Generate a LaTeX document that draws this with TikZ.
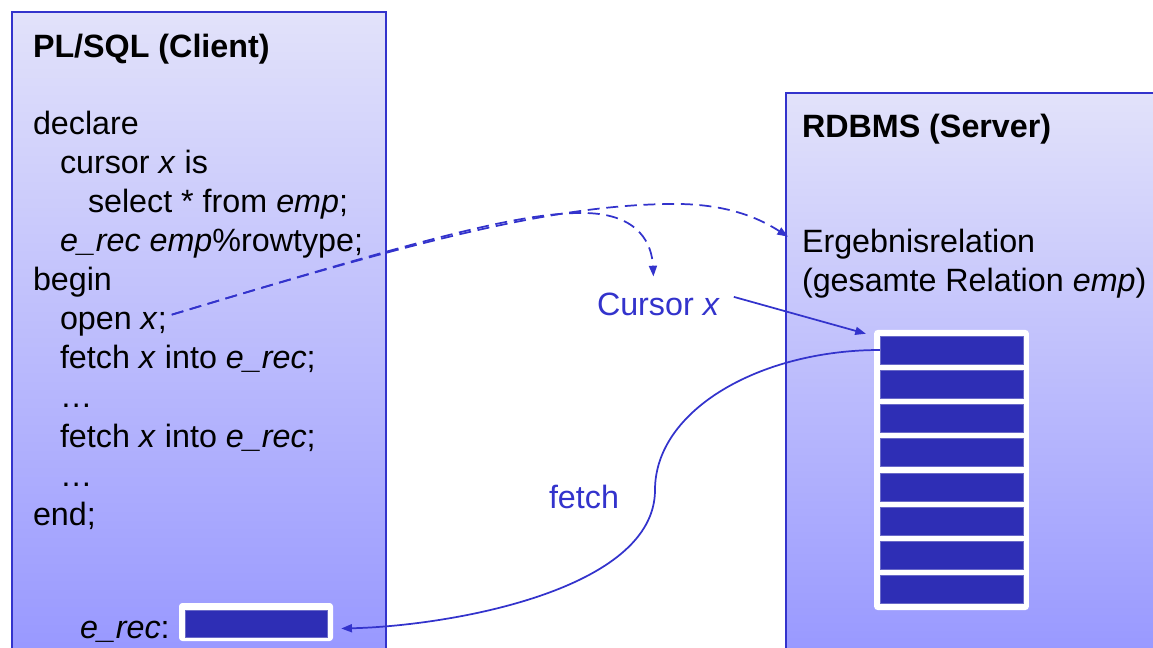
\documentclass[tikz,border=0pt]{standalone}
\usepackage{fontspec}
\setmainfont{Liberation Sans}
\usetikzlibrary{arrows.meta,calc}
\definecolor{lineblue}{HTML}{3333CC}
\definecolor{rowblue}{HTML}{2E2EB5}
\definecolor{rowedge}{HTML}{6A6AC8}
\definecolor{paneltop}{HTML}{E2E2FA}
\definecolor{panelbot}{HTML}{9696FF}
\begin{document}
\begin{tikzpicture}[x=0.75pt,y=-0.75pt,
  txt/.style={anchor=base west,inner sep=0,outer sep=0,font=\fontsize{24.2}{29}\selectfont},
  ttl/.style={txt,font=\fontsize{24.2}{29}\selectfont\bfseries},
  bluetxt/.style={txt,text=lineblue},
  panel/.style={draw=lineblue,line width=1.3pt,top color=paneltop,bottom color=panelbot},
  whitebox/.style={fill=white,rounded corners=2.5pt},
  row/.style={fill=rowblue,draw=rowedge,line width=0.4pt,inner sep=0,minimum width=107pt,minimum height=21pt},
  conn/.style={draw=lineblue,line width=1.3pt,-{Triangle[length=8pt,width=6pt]}},
  dconn/.style={conn,dash pattern=on 9pt off 5pt}
]
\useasboundingbox (0,0) rectangle (1153,648);
\clip (0,0) rectangle (1153,648);
% panels
\path[panel] (12,12) rectangle (386,672);
\path[panel] (786,93) rectangle (1180,672);

% left panel text
\node[ttl] (t1) at (33,58) {PL/SQL (Client)};
\node[txt] (l1) at (33,135) {declare};
\node[txt] (l2) at (60,174) {cursor \textit{x} is};
\node[txt] (l3) at (88,213) {select * from \textit{emp};};
\node[txt] (l4) at (60,252) {\textit{e\_rec emp}\%rowtype;};
\node[txt] (l5) at (33,291) {begin};
\node[txt] (openx) at (60,330) {open \textit{x};};
\node[txt] (l7) at (60,369) {fetch \textit{x} into \textit{e\_rec};};
\node[txt] (l8) at (60,408) {\dots};
\node[txt] (l9) at (60,447) {fetch \textit{x} into \textit{e\_rec};};
\node[txt] (l10) at (60,486) {\dots};
\node[txt] (l11) at (33,525) {end;};
\node[txt] (erectxt) at (80,638) {\textit{e\_rec}:};
\path[whitebox] (179,603) rectangle (333,641);
\node[row,minimum width=106.5pt,minimum height=20.25pt] (erec) at (256,623.5) {};

% right panel text
\node[ttl] (t2) at (802,138) {RDBMS (Server)};
\node[txt] (erg) at (802,253) {Ergebnisrelation};
\node[txt] (ges) at (802,292) {(gesamte Relation \textit{emp})};

% table
\node[whitebox,minimum width=116pt,minimum height=210pt,inner sep=0] (table) at (951.5,470) {};
\foreach \i in {1,...,8}{
  \node[row] (row\i) at (951.5,{350+34.2*(\i-1)}) {};
}

% labels
\node[bluetxt] (cursor) at (597,316) {Cursor \textit{x}};
\node[bluetxt] (fetch) at (549,508) {fetch};

% connectors
\coordinate (os) at ($(openx.east)+(5,-10)$);
\coordinate (ct) at ($(cursor.north)+(-5,-17)$);
\coordinate (et) at ($(erg.west)+(-14,-8)$);
\draw[dconn] (os) .. controls (420,240) and (520,212) .. (585,213) .. controls (640,214) and (652,245) .. (ct);
\draw[dconn] (os) .. controls (420,240) and (560,203) .. (680,204) .. controls (735,205) and (765,222) .. (et);
\draw[conn] ($(cursor.east)+(14,-8)$) -- ($(table.north west)+(-8,4)$);
\draw[conn] (row1.west) .. controls (760,350) and (655,410) .. (655,490) .. controls (655,590) and (450,626) .. ($(erec.east)+(14,5)$);
\end{tikzpicture}
\end{document}
